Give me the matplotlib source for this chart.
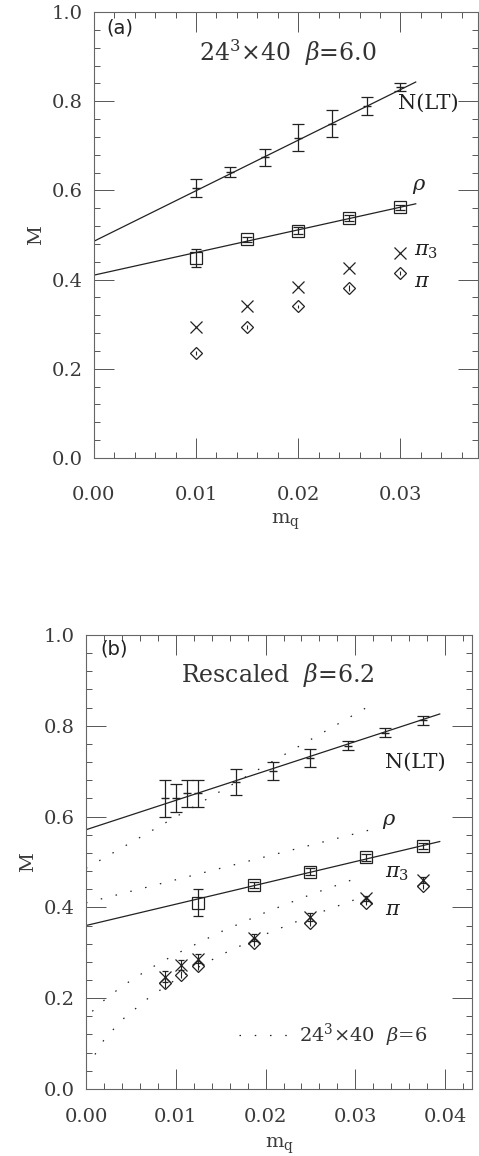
import matplotlib
matplotlib.use('Agg')
import matplotlib.pyplot as plt
from matplotlib.lines import Line2D

plt.rcParams['font.family'] = ['DejaVu Serif']
plt.rcParams['mathtext.fontset'] = 'dejavuserif'

INK = '#222222'

# ---- panel (a): 24^3x40, beta=6.0 ----
a_n_x = [0.01, 0.0133, 0.0167, 0.02, 0.0233, 0.0267, 0.03]
a_n_y = [0.606, 0.641, 0.674, 0.718, 0.750, 0.790, 0.831]
a_n_err = [0.02, 0.011, 0.019, 0.03, 0.03, 0.02, 0.009]

a_rho_x = [0.01, 0.015, 0.02, 0.025, 0.03]
a_rho_y = [0.449, 0.490, 0.510, 0.538, 0.562]
a_rho_err = [0.02, 0.006, 0.008, 0.006, 0.006]

a_pi3_x = [0.01, 0.015, 0.02, 0.025, 0.03]
a_pi3_y = [0.293, 0.340, 0.383, 0.425, 0.460]

a_pi_x = [0.01, 0.015, 0.02, 0.025, 0.03]
a_pi_y = [0.236, 0.294, 0.340, 0.381, 0.415]
a_pi_err = [0.004, 0.004, 0.004, 0.006, 0.004]

# linear fits at beta=6.0 (also shown dotted in panel b)
fit6_x = [0.0, 0.0315]
fit6_n = [0.486, 0.843]
fit6_rho = [0.410, 0.570]
# pion fits at beta=6.0
fit6_pi3_x = [0.0007, 0.002, 0.004, 0.007, 0.01, 0.015, 0.02, 0.025, 0.0301]
fit6_pi3_y = [0.171, 0.195, 0.226, 0.264, 0.297, 0.346, 0.389, 0.428, 0.464]
fit6_pi_x = [0.001, 0.002, 0.004, 0.007, 0.01, 0.015, 0.02, 0.025, 0.0305]
fit6_pi_y = [0.076, 0.108, 0.152, 0.201, 0.241, 0.295, 0.341, 0.381, 0.421]

# ---- panel (b): rescaled beta=6.2 ----
b_n_x = [0.0088, 0.0100, 0.0113, 0.0125, 0.0167, 0.0208, 0.025, 0.0292, 0.0333, 0.0375]
b_n_y = [0.640, 0.641, 0.651, 0.651, 0.676, 0.700, 0.729, 0.756, 0.785, 0.812]
b_n_err = [0.04, 0.03, 0.029, 0.029, 0.029, 0.02, 0.02, 0.01, 0.01, 0.01]

b_rho_x = [0.0125, 0.0187, 0.025, 0.0312, 0.0375]
b_rho_y = [0.410, 0.449, 0.479, 0.510, 0.535]
b_rho_err = [0.03, 0.007, 0.007, 0.007, 0.007]

b_pi_x = [0.0088, 0.0106, 0.0125, 0.0187, 0.025, 0.0312, 0.0375]
b_pi3_y = [0.247, 0.273, 0.287, 0.333, 0.379, 0.420, 0.460]
b_pi3_err = [0.012, 0.01, 0.01, 0.008, 0.008, 0.006, 0.006]
b_pi_y = [0.233, 0.252, 0.270, 0.322, 0.366, 0.410, 0.446]
b_pi_err = [0.01, 0.008, 0.008, 0.006, 0.006, 0.005, 0.005]

fit62_x = [0.0, 0.0394]
fit62_n = [0.571, 0.826]
fit62_rho = [0.360, 0.545]

DOT = (0, (1.2, 11))


def style_axes(ax, xmax, xticks, xpad, xlabelpad):
    ax.set_xlim(0, xmax)
    ax.set_ylim(0, 1.0)
    ax.set_xticks(xticks)
    ax.set_xticklabels([f'{t:.2f}' for t in xticks])
    ax.set_xticks([i * 0.002 for i in range(int(xmax / 0.002) + 1)], minor=True)
    ax.set_yticks([0.0, 0.2, 0.4, 0.6, 0.8, 1.0])
    ax.set_yticklabels(['0.0', '0.2', '0.4', '0.6', '0.8', '1.0'])
    ax.set_yticks([i * 0.04 for i in range(26)], minor=True)
    ax.tick_params(which='both', direction='in', top=True, right=True,
                   color='#555555', width=0.7, labelsize=14, labelcolor='#3a3a3a')
    ax.tick_params(which='major', length=14.5)
    ax.tick_params(which='minor', length=4.5)
    ax.tick_params(axis='x', pad=xpad)
    ax.tick_params(axis='y', pad=8)
    for s in ax.spines.values():
        s.set_color('#666666')
        s.set_linewidth(0.8)
    ax.set_ylabel('M', fontsize=14, color='#3a3a3a', labelpad=5)
    ax.set_xlabel(r'm$_{\rm q}$', fontsize=14, color='#3a3a3a', labelpad=xlabelpad)


fig = plt.figure(figsize=(4.79, 11.56), dpi=100)

# ---------------- (a) ----------------
ax = fig.add_axes([0.196, 0.6038, 0.802, 0.3858])
style_axes(ax, 0.0376, [0.0, 0.01, 0.02, 0.03], 20, 6)

ax.plot(fit6_x, fit6_n, color=INK, lw=0.9)
ax.plot(fit6_x, fit6_rho, color=INK, lw=0.9)
ax.errorbar(a_n_x, a_n_y, yerr=a_n_err, fmt='_', ms=6, color=INK,
            elinewidth=0.9, capsize=4.5, capthick=0.9)
ax.errorbar(a_rho_x, a_rho_y, yerr=a_rho_err, fmt='s', ms=9, mfc='none',
            mec=INK, mew=0.9, color=INK, elinewidth=0.9, capsize=3.5, capthick=0.9)
ax.plot(a_pi3_x, a_pi3_y, 'x', ms=8.5, mew=0.9, color=INK)
ax.errorbar(a_pi_x, a_pi_y, yerr=a_pi_err, fmt='D', ms=6.5, mfc='none',
            mec=INK, mew=0.9, color=INK, elinewidth=0.8, capsize=0)

ax.text(0.0298, 0.795, 'N(LT)', fontsize=15, va='center', color=INK)
ax.text(0.0311, 0.608, r'$\rho$', fontsize=15, va='center', color=INK)
ax.text(0.0313, 0.462, r'$\pi_3$', fontsize=15, va='center', color=INK)
ax.text(0.0313, 0.396, r'$\pi$', fontsize=15, va='center', color=INK)

ax.text(0.033, 0.964, '(a)', transform=ax.transAxes, fontsize=14,
        family='DejaVu Sans', va='center', ha='left', color=INK)
ax.text(0.504, 0.908, r'24$^3$$\times$40  $\beta$=6.0', transform=ax.transAxes,
        fontsize=17, ha='center', va='center', color='#333333')

# ---------------- (b) ----------------
ax = fig.add_axes([0.1795, 0.058, 0.806, 0.3927])
style_axes(ax, 0.043, [0.0, 0.01, 0.02, 0.03, 0.04], 14, 7)

ax.plot(fit6_x, fit6_n, color=INK, lw=0.9, ls=DOT)
ax.plot(fit6_x, fit6_rho, color=INK, lw=0.9, ls=DOT)
ax.plot(fit6_pi3_x, fit6_pi3_y, color=INK, lw=0.9, ls=DOT)
ax.plot(fit6_pi_x, fit6_pi_y, color=INK, lw=0.9, ls=DOT)

ax.plot(fit62_x, fit62_n, color=INK, lw=0.9)
ax.plot(fit62_x, fit62_rho, color=INK, lw=0.9)
ax.errorbar(b_n_x, b_n_y, yerr=b_n_err, fmt='_', ms=6, color=INK,
            elinewidth=0.9, capsize=4.5, capthick=0.9)
ax.errorbar(b_rho_x, b_rho_y, yerr=b_rho_err, fmt='s', ms=9, mfc='none',
            mec=INK, mew=0.9, color=INK, elinewidth=0.9, capsize=3.5, capthick=0.9)
ax.errorbar(b_pi_x, b_pi3_y, yerr=b_pi3_err, fmt='x', ms=8.5, mew=0.9,
            color=INK, elinewidth=0.8, capsize=2, capthick=0.8)
ax.errorbar(b_pi_x, b_pi_y, yerr=b_pi_err, fmt='D', ms=6.5, mfc='none',
            mec=INK, mew=0.9, color=INK, elinewidth=0.8, capsize=0)

ax.text(0.0333, 0.72, 'N(LT)', fontsize=15, va='center', color=INK)
ax.text(0.0330, 0.589, r'$\rho$', fontsize=15, va='center', color=INK)
ax.text(0.0333, 0.474, r'$\pi_3$', fontsize=15, va='center', color=INK)
ax.text(0.0333, 0.395, r'$\pi$', fontsize=15, va='center', color=INK)

ax.text(0.036, 0.97, '(b)', transform=ax.transAxes, fontsize=14,
        family='DejaVu Sans', va='center', ha='left', color=INK)
ax.text(0.497, 0.912, r'Rescaled  $\beta$=6.2', transform=ax.transAxes,
        fontsize=17, ha='center', va='center', color='#333333')

handle = Line2D([], [], color=INK, lw=0.9, ls=DOT)
leg = ax.legend([handle], [r'24$^3$$\times$40  $\beta$=6'], loc='center right',
                bbox_to_anchor=(0.885, 0.119), frameon=False, fontsize=14,
                handlelength=2.6, handletextpad=0.5, borderpad=0, borderaxespad=0)
for t in leg.get_texts():
    t.set_color('#333333')

fig.savefig('out.png', dpi=100)
